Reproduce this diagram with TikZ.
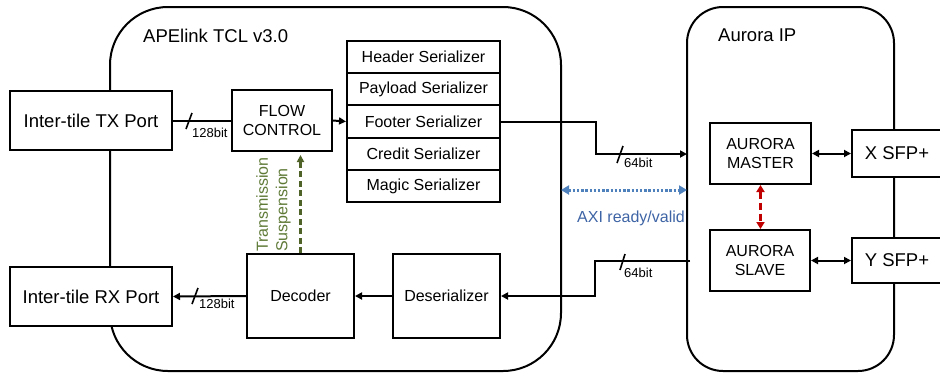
\documentclass[tikz,border=0pt]{standalone}
\usepackage{fontspec}
\setmainfont{Liberation Sans}
\usetikzlibrary{arrows.meta,calc}
\definecolor{axiblue}{RGB}{79,129,189}
\definecolor{axitext}{RGB}{62,100,165}
\definecolor{tsgreen}{RGB}{79,98,40}
\definecolor{tstext}{RGB}{95,122,55}
\definecolor{syncred}{RGB}{192,0,0}
\begin{document}
\begin{tikzpicture}[x=1pt,y=-1pt,
  container/.style={draw, line width=2pt, inner sep=0pt},
  blk/.style={draw, line width=2pt, fill=white, inner sep=0pt, align=center,
    font=\fontsize{16}{19.5}\selectfont},
  port/.style={blk, font=\fontsize{18.5}{21}\selectfont},
  conn/.style={line width=2pt},
  arr/.style={conn, -{Triangle[length=7pt,width=7pt]}},
  darr/.style={conn, {Triangle[length=7pt,width=7pt]}-{Triangle[length=7pt,width=7pt]}},
  slash/.style={line width=1.6pt},
  lbl/.style={inner sep=0pt, anchor=north west, font=\fontsize{13}{14}\selectfont},
  title/.style={inner sep=0pt, anchor=base west, font=\fontsize{18.5}{21}\selectfont}
]
\useasboundingbox (0,0) rectangle (940,373);

% containers
\node[container, rounded corners=58pt, minimum width=451pt, minimum height=364pt] (apelink) at (335.5,189) {};
\node[container, rounded corners=36pt, minimum width=207pt, minimum height=364pt] (aurora) at (790.5,189) {};
\node[title] (apetitle) at (143,42.5) {APElink TCL v3.0};
\node[title] (aurtitle) at (718,41) {Aurora IP};

% blocks
\node[port, minimum width=162pt, minimum height=59pt] (tx) at (91,120.5) {Inter-tile TX Port};
\node[port, minimum width=162pt, minimum height=59pt] (rx) at (91,296.5) {Inter-tile RX Port};
\node[blk, minimum width=100pt, minimum height=61pt] (flow) at (282,120.5) {FLOW\\CONTROL};

\node[blk, minimum width=153pt, minimum height=32.2pt] (hdr) at (423.5,57.1) {Header Serializer};
\node[blk, minimum width=153pt, minimum height=32.2pt] (pay) at (423.5,89.3) {Payload Serializer};
\node[blk, minimum width=153pt, minimum height=32.2pt] (foot) at (423.5,121.5) {Footer Serializer};
\node[blk, minimum width=153pt, minimum height=32.2pt] (cred) at (423.5,153.7) {Credit Serializer};
\node[blk, minimum width=153pt, minimum height=32.2pt] (magic) at (423.5,185.9) {Magic Serializer};

\node[blk, minimum width=107pt, minimum height=84pt] (dec) at (300.5,296) {Decoder};
\node[blk, minimum width=107pt, minimum height=84pt] (deser) at (446.5,296) {Deserializer};

\node[blk, minimum width=101pt, minimum height=61pt] (mst) at (760.5,153.5) {AURORA\\MASTER};
\node[blk, minimum width=100pt, minimum height=61pt] (slv) at (760,260.5) {AURORA\\SLAVE};
\node[port, minimum width=90pt, minimum height=47pt] (xsfp) at (897,153.5) {X SFP+};
\node[port, minimum width=90pt, minimum height=45pt] (ysfp) at (897,260.5) {Y SFP+};

% free ends
\coordinate (txin) at (687,154);
\coordinate (rxout) at (690,260.5);
\coordinate (axil) at (561,190);
\coordinate (axir) at (687,190);

% connectors
\draw[conn] (tx.east) -- (flow.west);
\draw[arr] (flow.east) -- (foot.west);
\draw[arr] (foot.east) -- ++(95,0) |- (txin);
\draw[arr] (rxout) -- ++(-95,0) |- (deser.east);
\draw[arr] (deser.west) -- (dec.east);
\draw[arr] (dec.west) -- (rx.east);
\draw[darr] (mst.east) -- (xsfp.west);
\draw[darr] (slv.east) -- (ysfp.west);

\draw[line width=2.2pt, tsgreen, dash pattern=on 6pt off 3.5pt, shorten >=3pt,
  -{Triangle[length=7pt,width=7pt]}] (dec.north) -- (dec.north |- flow.south);
\draw[line width=2.4pt, syncred, dash pattern=on 7pt off 4pt,
  {Triangle[length=7pt,width=8pt]}-{Triangle[length=7pt,width=8pt]}] (mst.south) -- (mst.south |- slv.north);
\draw[line width=3pt, axiblue, dash pattern=on 2.4pt off 1.8pt,
  {Triangle[length=8pt,width=9pt]}-{Triangle[length=8pt,width=9pt]}] (axil) -- (axir);

% bus width marks
\draw[slash] (186,129) -- (192,113);
\node[lbl] (l128a) at (192,127.5) {128bit};
\draw[slash] (192,304) -- (198,288);
\node[lbl] (l128b) at (199,299) {128bit};
\draw[slash] (617,163) -- (623,146);
\node[lbl] (l64a) at (624,158) {64bit};
\draw[slash] (620,270) -- (625,254);
\node[lbl] (l64b) at (624,267.5) {64bit};

% labels
\node[inner sep=0pt, anchor=base west, text=axitext, font=\fontsize{16}{18}\selectfont] (axilbl) at (577,222) {AXI ready/valid};
\node[rotate=90, anchor=north west, inner sep=0pt, align=left, text=tstext,
  font=\fontsize{16}{19.5}\selectfont] (tslbl) at (256,252) {Transmission\\Suspension};
\end{tikzpicture}
\end{document}
